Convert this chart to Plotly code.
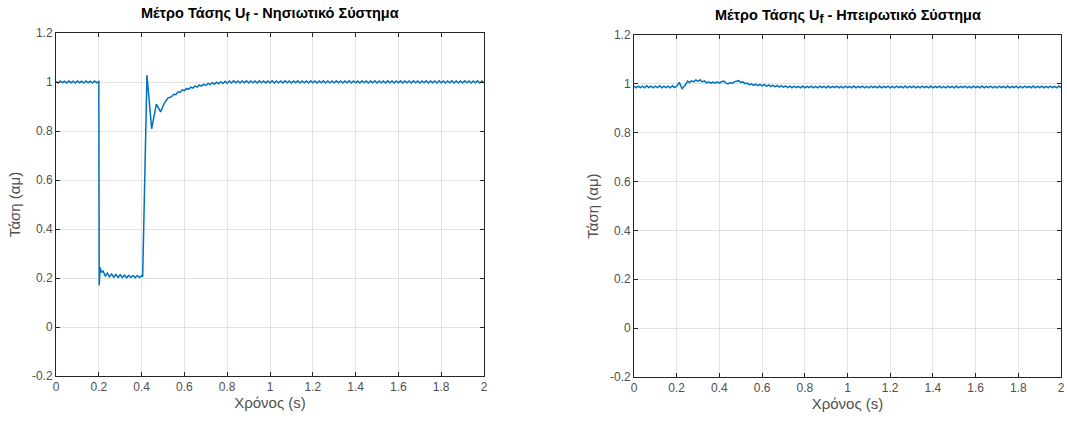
import plotly.graph_objects as go

# ---------------- data ----------------
# Left: island system (Νησιωτικό Σύστημα)
t_left_pre = [round(0.01 * i, 2) for i in range(21)]            # 0.00 .. 0.20
v_left_pre = [1.003, 0.996, 1.004, 0.997, 1.003, 0.996, 1.004, 0.997, 1.003, 0.996,
              1.004, 0.997, 1.003, 0.996, 1.004, 0.997, 1.003, 0.996, 1.004, 0.997, 1.002]
t_left_fault = [0.202, 0.206, 0.213, 0.22, 0.23, 0.24, 0.25, 0.26, 0.27, 0.28, 0.29,
                0.30, 0.31, 0.32, 0.33, 0.34, 0.35, 0.36, 0.37, 0.38, 0.39, 0.40, 0.405]
v_left_fault = [0.170, 0.243, 0.222, 0.230, 0.207, 0.220, 0.205, 0.216, 0.203, 0.214, 0.202,
                0.213, 0.202, 0.212, 0.201, 0.211, 0.202, 0.210, 0.201, 0.210, 0.202, 0.209, 0.205]
t_left_rec = [0.425, 0.447, 0.469, 0.489, 0.505, 0.523, 0.54, 0.55, 0.56, 0.57, 0.58, 0.59,
              0.60, 0.61, 0.62, 0.63, 0.64, 0.65, 0.66, 0.67, 0.68, 0.69, 0.70, 0.71, 0.72,
              0.73, 0.74, 0.75, 0.76, 0.77, 0.78, 0.79, 0.80]
v_left_rec = [1.028, 0.809, 0.910, 0.878, 0.912, 0.934, 0.940, 0.950, 0.948, 0.960, 0.958, 0.968,
              0.965, 0.974, 0.970, 0.979, 0.975, 0.984, 0.979, 0.988, 0.983, 0.991, 0.986, 0.994, 0.989,
              0.997, 0.991, 0.999, 0.993, 1.001, 0.994, 1.003, 0.995]
t_left_post = [round(0.81 + 0.01 * i, 2) for i in range(120)]   # 0.81 .. 2.00
v_left_post = [1.004, 0.996, 1.005, 0.997, 1.004, 0.996, 1.004, 0.997, 1.005, 0.996,
               1.004, 0.997, 1.004, 0.996, 1.005, 0.997, 1.004, 0.996, 1.004, 0.997,
               1.005, 0.996, 1.004, 0.997, 1.004, 0.996, 1.005, 0.997, 1.004, 0.996,
               1.004, 0.997, 1.005, 0.996, 1.004, 0.997, 1.004, 0.996, 1.005, 0.997,
               1.004, 0.996, 1.004, 0.997, 1.005, 0.996, 1.004, 0.997, 1.004, 0.996,
               1.005, 0.997, 1.004, 0.996, 1.004, 0.997, 1.005, 0.996, 1.004, 0.997,
               1.004, 0.996, 1.005, 0.997, 1.004, 0.996, 1.004, 0.997, 1.005, 0.996,
               1.004, 0.997, 1.004, 0.996, 1.005, 0.997, 1.004, 0.996, 1.004, 0.997,
               1.005, 0.996, 1.004, 0.997, 1.004, 0.996, 1.005, 0.997, 1.004, 0.996,
               1.004, 0.997, 1.005, 0.996, 1.004, 0.997, 1.004, 0.996, 1.005, 0.997,
               1.004, 0.996, 1.004, 0.997, 1.005, 0.996, 1.004, 0.997, 1.004, 0.996,
               1.005, 0.997, 1.004, 0.996, 1.004, 0.997, 1.005, 0.996, 1.004, 0.997]

# Right: mainland system (Ηπειρωτικό Σύστημα)
t_right_pre = [round(0.01 * i, 2) for i in range(21)]
v_right_pre = [0.991, 0.984, 0.991, 0.985, 0.991, 0.984, 0.992, 0.985, 0.991, 0.984,
               0.991, 0.985, 0.992, 0.984, 0.991, 0.985, 0.991, 0.984, 0.992, 0.985, 0.990]
t_right_dist = [0.212, 0.225, 0.24, 0.251, 0.26, 0.27, 0.28, 0.29, 0.30, 0.31, 0.32, 0.33,
                0.34, 0.35, 0.36, 0.37, 0.38, 0.39, 0.40, 0.41, 0.42, 0.43, 0.44, 0.45,
                0.46, 0.47, 0.48, 0.49, 0.50, 0.51, 0.52, 0.53, 0.54, 0.55, 0.56, 0.57,
                0.58, 0.59, 0.60, 0.61, 0.62, 0.63, 0.64, 0.65, 0.66, 0.67, 0.68, 0.69,
                0.70, 0.71, 0.72]
v_right_dist = [1.006, 0.980, 0.995, 1.011, 1.005, 1.012, 1.008, 1.016, 1.010, 1.017, 1.008, 1.012,
                1.004, 1.008, 1.003, 1.007, 1.003, 1.008, 1.003, 1.009, 1.011, 1.004, 1.000, 1.005,
                1.002, 1.008, 1.010, 1.013, 1.006, 1.008, 1.001, 1.003, 0.996, 1.000, 0.994, 0.999,
                0.993, 0.998, 0.992, 0.998, 0.990, 0.996, 0.989, 0.995, 0.988, 0.994, 0.987, 0.993,
                0.986, 0.992, 0.985]
t_right_post = [round(0.73 + 0.01 * i, 2) for i in range(128)]  # 0.73 .. 2.00
v_right_post = [0.991, 0.984, 0.991, 0.985, 0.990, 0.984, 0.991, 0.984, 0.990, 0.985,
                0.991, 0.984, 0.990, 0.984, 0.991, 0.985, 0.990, 0.984, 0.991, 0.984,
                0.990, 0.985, 0.991, 0.984, 0.990, 0.984, 0.991, 0.985, 0.990, 0.984,
                0.991, 0.984, 0.990, 0.985, 0.991, 0.984, 0.990, 0.984, 0.991, 0.985,
                0.990, 0.984, 0.991, 0.984, 0.990, 0.985, 0.991, 0.984, 0.990, 0.984,
                0.991, 0.985, 0.990, 0.984, 0.991, 0.984, 0.990, 0.985, 0.991, 0.984,
                0.990, 0.984, 0.991, 0.985, 0.990, 0.984, 0.991, 0.984, 0.990, 0.985,
                0.991, 0.984, 0.990, 0.984, 0.991, 0.985, 0.990, 0.984, 0.991, 0.984,
                0.990, 0.985, 0.991, 0.984, 0.990, 0.984, 0.991, 0.985, 0.990, 0.984,
                0.991, 0.984, 0.990, 0.985, 0.991, 0.984, 0.990, 0.984, 0.991, 0.985,
                0.990, 0.984, 0.991, 0.984, 0.990, 0.985, 0.991, 0.984, 0.990, 0.984,
                0.991, 0.985, 0.990, 0.984, 0.991, 0.984, 0.990, 0.985, 0.991, 0.984,
                0.990, 0.984, 0.991, 0.985, 0.990, 0.984, 0.991, 0.984]

x_ticks = [0, 0.2, 0.4, 0.6, 0.8, 1, 1.2, 1.4, 1.6, 1.8, 2]
x_tick_labels = ["0", "0.2", "0.4", "0.6", "0.8", "1", "1.2", "1.4", "1.6", "1.8", "2"]
y_ticks = [-0.2, 0, 0.2, 0.4, 0.6, 0.8, 1, 1.2]
y_tick_labels = ["-0.2", "0", "0.2", "0.4", "0.6", "0.8", "1", "1.2"]

SUB = "<sub><span style='font-size:12px'>f</span></sub>"
titles = ["<b>Μέτρο Τάσης U" + SUB + " - Νησιωτικό Σύστημα</b>",
          "<b>Μέτρο Τάσης U" + SUB + " - Ηπειρωτικό Σύστημα</b>"]
x_label = "Χρόνος (s)"
y_label = "Τάση (αμ)"

# ---------------- figure ----------------
W, H = 1067, 423
LINE = "#0072BD"
AX = "#262626"
TXT = "#505050"
FONT = "Liberation Sans, Arial, sans-serif"

tL = t_left_pre + t_left_fault + t_left_rec + t_left_post
vL = v_left_pre + v_left_fault + v_left_rec + v_left_post
tR = t_right_pre + t_right_dist + t_right_post
vR = v_right_pre + v_right_dist + v_right_post

fig = go.Figure()
fig.add_trace(go.Scatter(x=tL, y=vL, mode="lines", line=dict(color=LINE, width=1.5),
                         xaxis="x", yaxis="y", showlegend=False))
fig.add_trace(go.Scatter(x=tR, y=vR, mode="lines", line=dict(color=LINE, width=1.5),
                         xaxis="x2", yaxis="y2", showlegend=False))

def xa(domain, anchor):
    return dict(domain=domain, anchor=anchor, range=[0, 2], tickvals=x_ticks, ticktext=x_tick_labels,
                automargin=False,
                showgrid=True, gridcolor="#e3e3e3", gridwidth=1, zeroline=False,
                showline=True, linecolor=AX, linewidth=1, mirror="ticks",
                ticks="inside", ticklen=4, tickcolor=AX, ticklabeloverflow="allow",
                tickfont=dict(family=FONT, size=12, color=TXT),
                title=dict(text=x_label, font=dict(family=FONT, size=15, color=TXT), standoff=3))

def ya(domain, anchor):
    return dict(domain=domain, anchor=anchor, range=[-0.2, 1.2], tickvals=y_ticks, ticktext=y_tick_labels,
                automargin=False,
                showgrid=True, gridcolor="#e3e3e3", gridwidth=1, zeroline=False,
                showline=True, linecolor=AX, linewidth=1, mirror="ticks",
                ticks="inside", ticklen=4, tickcolor=AX, ticklabeloverflow="allow",
                tickfont=dict(family=FONT, size=12, color=TXT),
                title=dict(text=y_label, font=dict(family=FONT, size=15, color=TXT), standoff=7))

fig.update_layout(
    width=W, height=H,
    margin=dict(l=0, r=0, t=0, b=0, autoexpand=False),
    paper_bgcolor="white", plot_bgcolor="white",
    xaxis=xa([56 / W, 484 / W], "y"),
    yaxis=ya([1 - 376 / H, 1 - 33 / H], "x"),
    xaxis2=xa([634 / W, 1061 / W], "y2"),
    yaxis2=ya([1 - 377 / H, 1 - 35 / H], "x2"),
)

fig.add_annotation(text=titles[0], x=270 / W, y=1 - 14 / H, xref="paper", yref="paper",
                   showarrow=False, xanchor="center", yanchor="middle",
                   font=dict(family=FONT, size=14.5, color="#000000"))
fig.add_annotation(text=titles[1], x=848 / W, y=1 - 16 / H, xref="paper", yref="paper",
                   showarrow=False, xanchor="center", yanchor="middle",
                   font=dict(family=FONT, size=14.5, color="#000000"))

fig.write_html("out.html", config={"displayModeBar": False},
               post_script="document.body.style.margin='0';document.body.style.overflow='hidden';")
